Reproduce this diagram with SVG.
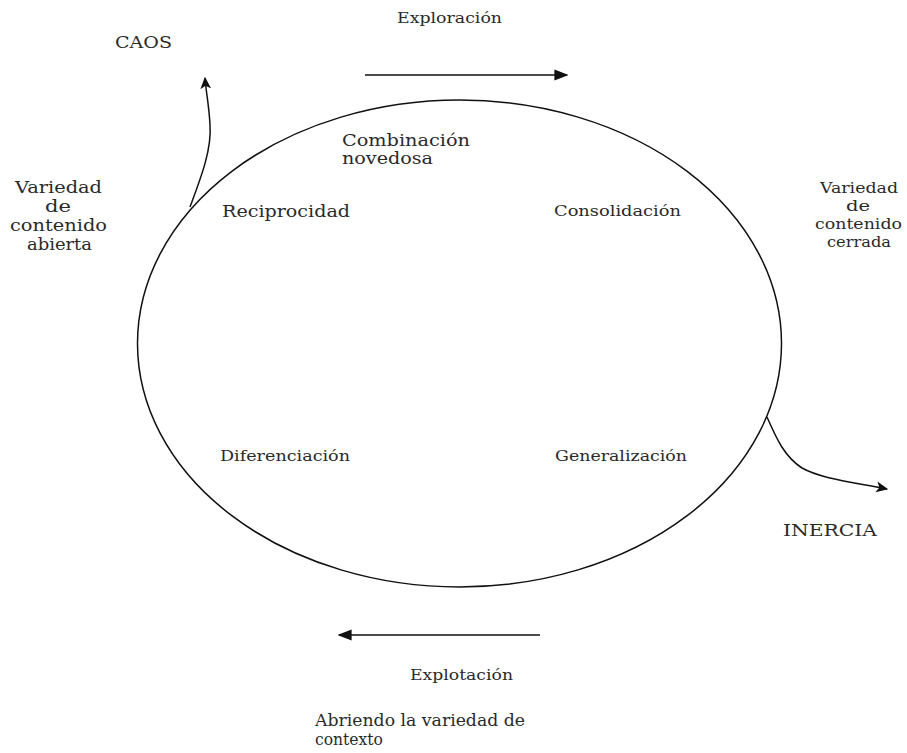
<svg xmlns="http://www.w3.org/2000/svg" width="907" height="753" viewBox="0 0 907 753">
  <style>
    text { font-family: "DejaVu Serif", "Liberation Serif", serif; fill: #2a2a2a; }
    .s { font-size: 14px; }
    .m { font-size: 15px; }
    .l { font-size: 16px; }
    .c { text-anchor: middle; }
    .line { fill: none; stroke: #111; stroke-width: 1.5; }
  </style>
  <defs>
    <marker id="arrow" viewBox="0 0 10 10" refX="9" refY="5" markerWidth="12" markerHeight="12" markerUnits="userSpaceOnUse" orient="auto">
      <path d="M0,0.5 L10,5 L0,9.5 L2.5,5 Z" fill="#111"/>
    </marker>
    <marker id="arrowBig" viewBox="0 0 10 10" refX="9" refY="5" markerWidth="14" markerHeight="14" markerUnits="userSpaceOnUse" orient="auto">
      <path d="M0,1 L10,5 L0,9 Z" fill="#111"/>
    </marker>
  </defs>

  <rect width="907" height="753" fill="#fff"/>

  <!-- cycle -->
  <g id="cycle">
    <ellipse class="line" cx="459.5" cy="343.5" rx="322" ry="243.5"/>
  </g>

  <!-- connectors -->
  <g id="connectors">
    <line class="line" x1="365" y1="75" x2="567" y2="75" marker-end="url(#arrowBig)"/>
    <line class="line" x1="540" y1="635" x2="339" y2="635" marker-end="url(#arrowBig)"/>
    <path class="line" d="M190,207 C200,180 212,150 210,125 C209,105 206,92 205,78" marker-end="url(#arrow)"/>
    <path class="line" d="M767,417 C777,440 785,457 802,468 C822,479 852,482 887,489" marker-end="url(#arrow)"/>
  </g>

  <!-- labels (stretched to the printed widths) -->
  <g id="exploracion"><text class="s" x="397" y="23" textLength="105" lengthAdjust="spacingAndGlyphs">Exploración</text></g>
  <g id="caos"><text class="l" x="115" y="48" textLength="57" lengthAdjust="spacingAndGlyphs">CAOS</text></g>
  <g id="combinacion">
    <text class="l" x="342" y="146" textLength="128" lengthAdjust="spacingAndGlyphs">Combinación</text>
    <text class="l" x="342" y="164" textLength="91" lengthAdjust="spacingAndGlyphs">novedosa</text>
  </g>
  <g id="variedad-abierta">
    <text class="l" x="15" y="193" textLength="87" lengthAdjust="spacingAndGlyphs">Variedad</text>
    <text class="l" x="45" y="212" textLength="26" lengthAdjust="spacingAndGlyphs">de</text>
    <text class="l" x="10" y="231" textLength="97" lengthAdjust="spacingAndGlyphs">contenido</text>
    <text class="l" x="27" y="250" textLength="65" lengthAdjust="spacingAndGlyphs">abierta</text>
  </g>
  <g id="reciprocidad"><text class="l" x="222" y="217" textLength="128" lengthAdjust="spacingAndGlyphs">Reciprocidad</text></g>
  <g id="consolidacion"><text class="m" x="554" y="216" textLength="127" lengthAdjust="spacingAndGlyphs">Consolidación</text></g>
  <g id="variedad-cerrada">
    <text class="m" x="820" y="193" textLength="78" lengthAdjust="spacingAndGlyphs">Variedad</text>
    <text class="m" x="846" y="211" textLength="24" lengthAdjust="spacingAndGlyphs">de</text>
    <text class="m" x="815" y="229" textLength="87" lengthAdjust="spacingAndGlyphs">contenido</text>
    <text class="m" x="827" y="247" textLength="64" lengthAdjust="spacingAndGlyphs">cerrada</text>
  </g>
  <g id="diferenciacion"><text class="s" x="220" y="461" textLength="130" lengthAdjust="spacingAndGlyphs">Diferenciación</text></g>
  <g id="generalizacion"><text class="s" x="555" y="461" textLength="132" lengthAdjust="spacingAndGlyphs">Generalización</text></g>
  <g id="inercia"><text class="l" x="783" y="536" textLength="94" lengthAdjust="spacingAndGlyphs">INERCIA</text></g>
  <g id="explotacion"><text class="s" x="410" y="680" textLength="103" lengthAdjust="spacingAndGlyphs">Explotación</text></g>
  <g id="abriendo">
    <text class="l" x="315" y="726" textLength="210" lengthAdjust="spacingAndGlyphs">Abriendo la variedad de</text>
    <text class="l" x="315" y="745" textLength="68" lengthAdjust="spacingAndGlyphs">contexto</text>
  </g>
</svg>
